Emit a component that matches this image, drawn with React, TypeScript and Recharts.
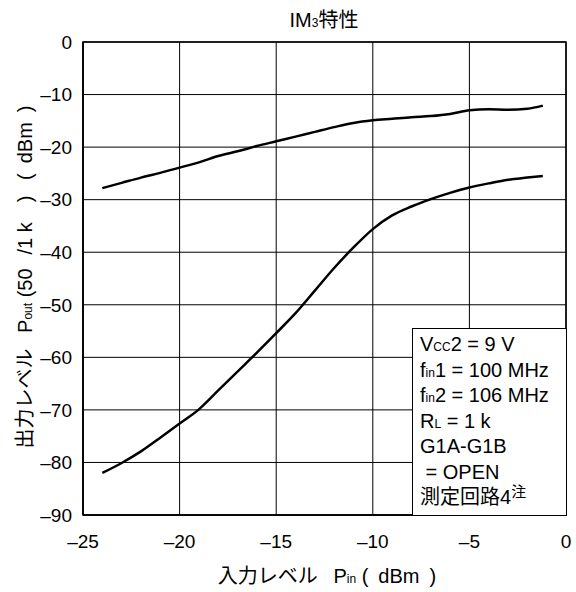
import { LineChart, Line, XAxis, YAxis, CartesianGrid, ReferenceArea } from 'recharts';

// input level Pin (dBm)
const pin = [-24, -23, -22, -21, -20, -19, -18, -17, -16, -15, -14, -13, -12, -11, -10, -9, -8, -7, -6, -5, -4, -3, -2, -1.2];
// fundamental output
const fundamentalOut = [-27.8, -26.8, -25.8, -24.9, -23.9, -22.9, -21.7, -20.8, -19.8, -18.9, -18.0, -17.1, -16.2, -15.4, -14.9, -14.6, -14.3, -14.1, -13.7, -13.0, -12.8, -12.9, -12.7, -12.1];
// 3rd order intermod output
const im3Out = [-82.0, -80.1, -77.9, -75.3, -72.6, -69.9, -66.3, -62.7, -59.1, -55.4, -51.6, -47.3, -43.0, -39.1, -35.6, -33.0, -31.3, -29.9, -28.7, -27.7, -26.9, -26.2, -25.8, -25.5];

const xTicks = [-25, -20, -15, -10, -5, 0];
const yTicks = [0, -10, -20, -30, -40, -50, -60, -70, -80, -90];

const FONT = '"Liberation Sans", Arial, "Noto Sans CJK JP", sans-serif';

const fmt = (v: number) => (v < 0 ? '\u2013' + Math.abs(v) : String(v));

const small = { fontSize: 12, lineHeight: '12px' };
const row = { height: 25.5, lineHeight: '25.5px' };

export default function App() {
  const data = pin.map((x, i) => ({ pin: x, fund: fundamentalOut[i], im3: im3Out[i] }));

  return (
    <div style={{ position: 'absolute', left: 0, top: 0, width: 576, height: 592, background: '#fff', fontFamily: FONT, color: '#000' }}>
      <LineChart width={576} height={592} data={data} margin={{ top: 42, right: 10, bottom: 0, left: 0 }}>
        <CartesianGrid stroke="#000" strokeWidth={1} horizontalValues={yTicks} verticalValues={xTicks} />
        <XAxis
          dataKey="pin"
          type="number"
          domain={[-25, 0]}
          ticks={xTicks}
          tickFormatter={fmt}
          height={77}
          tickLine={false}
          tickSize={0}
          tickMargin={20}
          axisLine={{ stroke: '#000', strokeWidth: 1.5 }}
          tick={{ fill: '#000', fontSize: 19, fontFamily: FONT }}
        />
        <YAxis
          type="number"
          domain={[-90, 0]}
          ticks={yTicks}
          tickFormatter={fmt}
          width={83}
          tickLine={false}
          tickSize={0}
          tickMargin={11}
          axisLine={{ stroke: '#000', strokeWidth: 1.5 }}
          tick={{ fill: '#000', fontSize: 19, fontFamily: FONT }}
        />
        <ReferenceArea x1={-25} x2={0} y1={-90} y2={0} fill="none" stroke="#000" strokeWidth={1.5} />
        <Line dataKey="fund" type="monotone" stroke="#000" strokeWidth={2.5} dot={false} isAnimationActive={false} />
        <Line dataKey="im3" type="monotone" stroke="#000" strokeWidth={2.5} dot={false} isAnimationActive={false} />
      </LineChart>

      {/* title */}
      <div style={{ position: 'absolute', left: 324, top: 8, transform: 'translateX(-50%)', fontSize: 20, whiteSpace: 'nowrap', lineHeight: '24px' }}>
        IM<span style={small}>3</span>特性
      </div>

      {/* y label */}
      <div
        style={{
          position: 'absolute',
          left: 25,
          top: 277,
          transform: 'translate(-50%, -50%) rotate(-90deg)',
          fontSize: 20,
          whiteSpace: 'nowrap',
          lineHeight: '24px',
        }}
      >
        出力レベル{'\u2002 '}P<span style={small}>out</span> (50{'\u2002\u2009'}/1 k{'\u2003'}){'\u2002 '}({'\u2002'}dBm{'\u2002'})
      </div>

      {/* x label */}
      <div style={{ position: 'absolute', left: 327, top: 564, transform: 'translateX(-50%)', fontSize: 20, whiteSpace: 'nowrap', lineHeight: '24px' }}>
        入力レベル{'\u2002 '}P<span style={small}>in</span> ({'\u2002'}dBm{'\u2002'})
      </div>

      {/* condition box */}
      <div
        style={{
          position: 'absolute',
          left: 412,
          top: 328,
          width: 155,
          height: 188,
          boxSizing: 'border-box',
          border: '1.5px solid #000',
          background: '#fff',
          padding: '3px 0 0 7px',
          fontSize: 20,
          whiteSpace: 'nowrap',
        }}
      >
        <div style={row}>V<span style={small}>CC</span>2 = 9 V</div>
        <div style={row}>f<span style={small}>in</span>1 = 100 MHz</div>
        <div style={row}>f<span style={small}>in</span>2 = 106 MHz</div>
        <div style={row}>R<span style={small}>L</span> = 1 k</div>
        <div style={row}>G1A-G1B</div>
        <div style={row}>{'\u00a0'}= OPEN</div>
        <div style={row}>
          測定回路4<span style={{ fontSize: 15, lineHeight: '15px', position: 'relative', top: -7 }}>注</span>
        </div>
      </div>
    </div>
  );
}
